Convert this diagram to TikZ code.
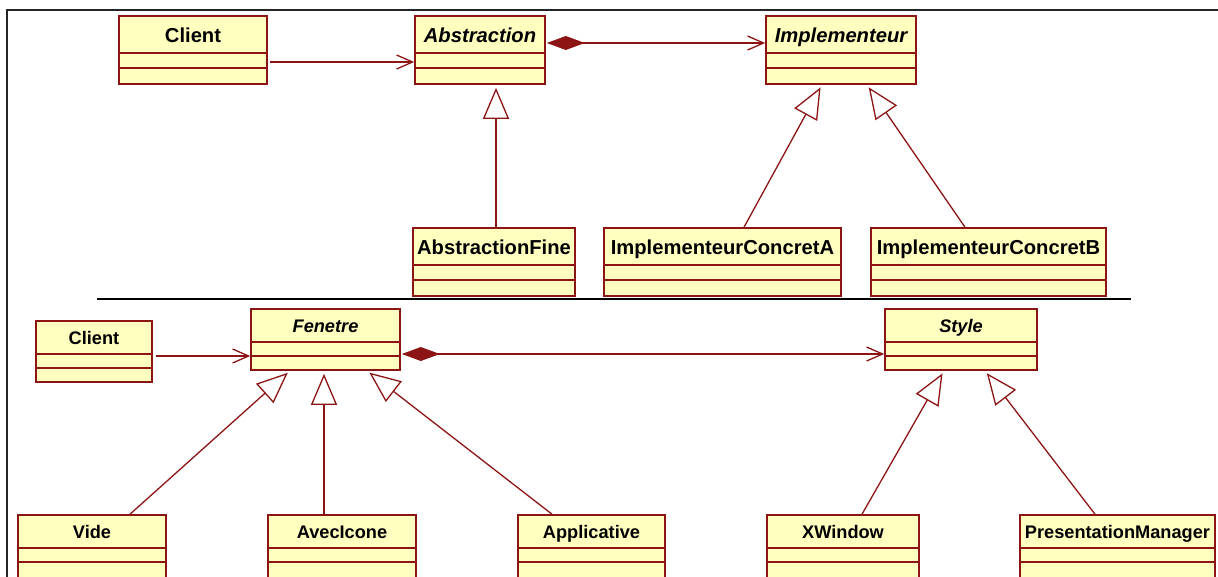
\documentclass[tikz,border=0pt]{standalone}
\usepackage{fontspec}
\setmainfont{Liberation Sans}
\usetikzlibrary{arrows.meta}
\definecolor{umlred}{RGB}{140,20,20}
\definecolor{umlfill}{RGB}{255,255,192}
\begin{document}
\begin{tikzpicture}[x=1pt, y=-1pt,
    classe/.style = {shape=rectangle, draw=umlred, fill=umlfill, line width=1.6pt, inner sep=0pt,
                     minimum height=68pt, text height=13pt, text depth=29pt,
                     font=\fontsize{20.2}{23}\selectfont\bfseries,
                     path picture={\draw[umlred, line width=1.6pt]
                        ([yshift=-37pt]path picture bounding box.north west) -- ([yshift=-37pt]path picture bounding box.north east)
                        ([yshift=-52pt]path picture bounding box.north west) -- ([yshift=-52pt]path picture bounding box.north east);}},
    petite/.style = {classe, minimum height=61pt, text height=12pt, text depth=27pt,
                     font=\fontsize{18.2}{21}\selectfont\bfseries,
                     path picture={\draw[umlred, line width=1.6pt]
                        ([yshift=-33pt]path picture bounding box.north west) -- ([yshift=-33pt]path picture bounding box.north east)
                        ([yshift=-47pt]path picture bounding box.north west) -- ([yshift=-47pt]path picture bounding box.north east);}},
    basse/.style = {petite, minimum height=64pt, text height=12pt, text depth=30pt},
    abstraite/.style = {font=\fontsize{20.2}{23}\selectfont\bfseries\itshape},
    abstraite2/.style = {font=\fontsize{18.2}{21}\selectfont\bfseries\itshape},
    navig/.style = {draw=umlred, line width=1.3pt, -{Straight Barb[length=16pt, width=14pt, line width=1.3pt]}},
    compo/.style = {navig, {Diamond[length=38pt, width=14pt]}-{Straight Barb[length=16pt, width=14pt, line width=1.3pt]}},
    herite/.style = {draw=umlred, line width=1.3pt, shorten >=3pt, -{Triangle[open, length=31pt, width=26pt, line width=1.3pt]}}]
\useasboundingbox (0,0) rectangle (1218,576);
% cadre et separation
\draw[line width=2pt, black!85] (7,580) -- (7,10) -- (1222,10);
\draw[line width=1.5pt] (97,299) -- (1131,299);

% motif Pont
\node[classe, minimum width=148pt] (client) at (193,50) {Client};
\node[classe, abstraite, minimum width=130pt] (abstraction) at (480,50) {Abstraction};
\node[classe, abstraite, minimum width=150pt] (implementeur) at (841,50) {Implementeur};
\node[classe, minimum width=162pt] (abstractionFine) at (494,262) {AbstractionFine};
\node[classe, minimum width=237pt] (concretA) at (722.5,262) {ImplementeurConcretA};
\node[classe, minimum width=235pt] (concretB) at (988.5,262) {ImplementeurConcretB};

\draw[navig] ([xshift=2pt,yshift=-12pt]client.east) -- ([yshift=-12pt]abstraction.west);
\draw[compo] ([xshift=1pt,yshift=7pt]abstraction.east) -- ([yshift=7pt]implementeur.west);
\draw[herite] ([xshift=2pt]abstractionFine.north) -- ([xshift=16pt]abstraction.south);
\draw[herite] ([xshift=21.5pt]concretA.north) -- ([xshift=-19pt]implementeur.south);
\draw[herite] ([xshift=-23.5pt]concretB.north) -- ([xshift=26pt]implementeur.south);

% exemple des fenetres
\node[petite, minimum width=116pt] (client2) at (94,351.5) {Client};
\node[petite, abstraite2, minimum width=149pt] (fenetre) at (325.5,339.5) {Fenetre};
\node[petite, abstraite2, minimum width=152pt] (style) at (961,339.5) {Style};
\node[basse, minimum width=148pt] (vide) at (92,547) {Vide};
\node[basse, minimum width=148pt] (avecIcone) at (342,547) {AvecIcone};
\node[basse, minimum width=147pt] (applicative) at (591.5,547) {Applicative};
\node[basse, minimum width=152pt] (xwindow) at (843,547) {XWindow};
\node[basse, minimum width=195pt] (presentation) at (1117.5,547) {PresentationManager};

\draw[navig] ([xshift=3pt,yshift=-4.5pt]client2.east) -- ([yshift=-16.5pt]fenetre.west);
\draw[compo] ([xshift=1pt,yshift=-14.5pt]fenetre.east) -- ([yshift=-14.5pt]style.west);
\draw[herite] ([xshift=38pt]vide.north) -- ([xshift=-35.5pt]fenetre.south);
\draw[herite] ([xshift=-18pt]avecIcone.north) -- ([xshift=-1.5pt]fenetre.south);
\draw[herite] ([xshift=-39.5pt]applicative.north) -- ([xshift=41.5pt]fenetre.south);
\draw[herite] ([xshift=19pt]xwindow.north) -- ([xshift=-17pt]style.south);
\draw[herite] ([xshift=-22.5pt]presentation.north) -- ([xshift=24pt]style.south);
\end{tikzpicture}
\end{document}
